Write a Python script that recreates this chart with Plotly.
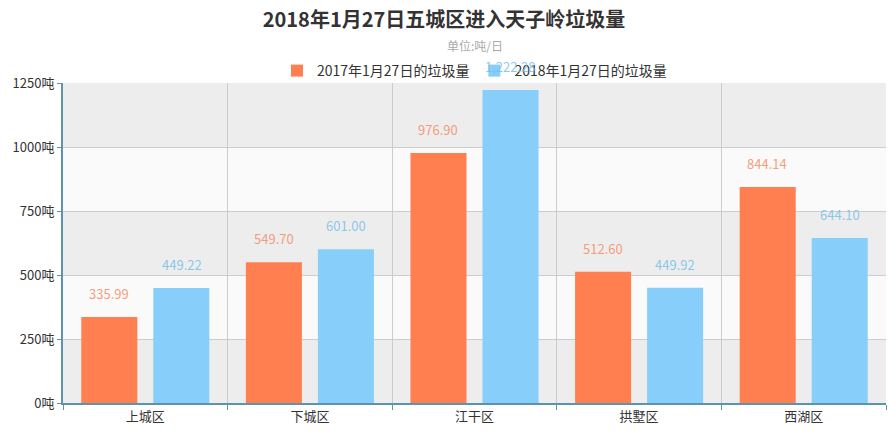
import plotly.graph_objects as go

categories = ["上城区", "下城区", "江干区", "拱墅区", "西湖区"]
series_2017 = [335.99, 549.70, 976.90, 512.60, 844.14]
series_2018 = [449.22, 601.00, 1222.28, 449.92, 644.10]
name_2017 = "2017年1月27日的垃圾量"
name_2018 = "2018年1月27日的垃圾量"
y_ticks = [0, 250, 500, 750, 1000, 1250]
y_unit = "吨"

FONT = "Microsoft YaHei, Noto Sans CJK SC, sans-serif"
C17 = "#ff7f50"
C18 = "#87cefa"
AXIS = "#5b94ab"

fig = go.Figure()
fig.add_trace(go.Bar(x=categories, y=series_2017, name=name_2017,
                     marker=dict(color=C17, line=dict(width=0))))
fig.add_trace(go.Bar(x=categories, y=series_2018, name=name_2018,
                     marker=dict(color=C18, line=dict(width=0))))

# alternating background bands
shapes = []
for i in range(len(y_ticks) - 1):
    shapes.append(dict(type="rect", xref="paper", yref="y", x0=0, x1=1,
                       y0=y_ticks[i], y1=y_ticks[i + 1], layer="below",
                       line=dict(width=0),
                       fillcolor="#ededed" if i % 2 == 0 else "#fafafa"))

annotations = []
for i, (a, b) in enumerate(zip(series_2017, series_2018)):
    for v, off, col in ((a, -0.22, "rgba(245,140,100,0.85)"), (b, 0.22, "rgba(120,190,235,0.85)")):
        annotations.append(dict(x=i + off, y=v, xref="x", yref="y",
                                text=f"{v:,.2f}", showarrow=False,
                                yanchor="bottom", yshift=12,
                                font=dict(size=13, color=col, family=FONT)))
annotations.append(dict(x=0.5, y=(403 - 46) / 320, xref="paper", yref="paper",
                        text="单位:吨/日", showarrow=False, yanchor="middle",
                        font=dict(size=12, color="#aaaaaa", family=FONT)))

fig.update_layout(
    width=888, height=440,
    margin=dict(l=63, r=2, t=83, b=37),
    paper_bgcolor="white", plot_bgcolor="rgba(0,0,0,0)",
    font=dict(family=FONT, size=12, color="#333333"),
    title=dict(text="<b>2018年1月27日五城区进入天子岭垃圾量</b>", x=0.5, xanchor="center",
               y=1 - 20 / 440, yanchor="middle", yref="container",
               font=dict(size=20, color="#333333", family=FONT)),
    legend=dict(orientation="h", x=0.5, xanchor="center", y=(403 - 71) / 320, yanchor="middle",
                font=dict(size=14, color="#333333", family=FONT),
                bgcolor="rgba(0,0,0,0)", itemwidth=30, tracegroupgap=0),
    bargap=0.125, bargroupgap=0.222,
    shapes=shapes, annotations=annotations,
    xaxis=dict(showline=True, linecolor=AXIS, linewidth=2, tickson="boundaries",
               ticks="outside", ticklen=5, tickcolor=AXIS, showgrid=True,
               gridcolor="#cccccc", gridwidth=1, tickfont=dict(size=13, color="#333333")),
    yaxis=dict(range=[0, 1250], tickmode="array", tickvals=y_ticks,
               ticktext=[f"{v}{y_unit}" for v in y_ticks],
               showline=True, linecolor=AXIS, linewidth=2,
               ticks="outside", ticklen=4, tickcolor=AXIS,
               showgrid=True, gridcolor="#cccccc", gridwidth=1, zeroline=False,
               tickfont=dict(size=13, color="#333333")),
)

fig.write_html("out.html")
